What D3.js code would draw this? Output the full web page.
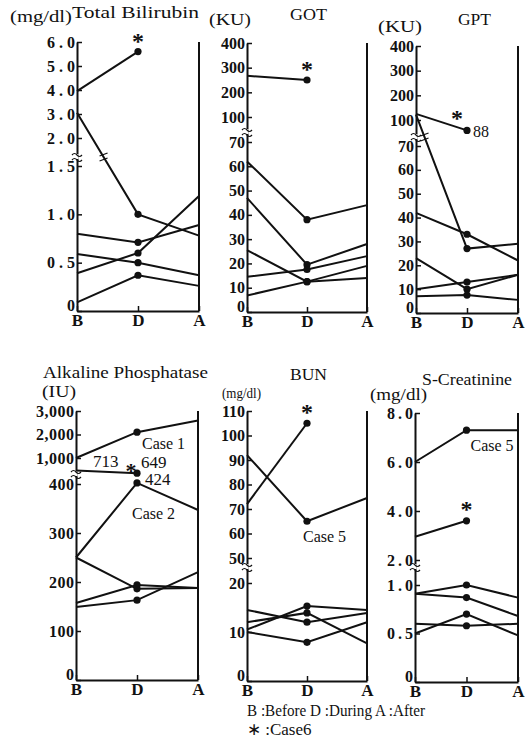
<!DOCTYPE html>
<html><head><meta charset="utf-8">
<script src="https://cdn.jsdelivr.net/npm/d3@7"></script>
<style>
body{margin:0;background:#fff}
svg{display:block}
text{font-family:"Liberation Serif","Times New Roman",serif;fill:#111}
</style>
</head><body>
<svg id="c" width="532" height="743"></svg>
<script>
// ---------- data ----------
const stages = ["B","D","A"];

// Total Bilirubin (mg/dl)
const bilDomain = [0, 1.5, 2.0, 6.0];
const bilTicks = [0, 0.5, 1.0, 1.5, 2.0, 3.0, 4.0, 5.0, 6.0];
const bilTickLabels = ["0","0.5","1.0","1.5","2.0","3.0","4.0","5.0","6.0"];
const bilCase6 = [3.95, 5.6, null];
const bilOthers = [[3.05,1.0,0.78],[0.8,0.71,0.89],[0.39,0.6,1.19],[0.59,0.5,0.37],[0.09,0.37,0.26]];

// GOT (KU)
const gotDomain = [0, 70, 100, 400];
const gotTicks = [0,10,20,30,40,50,60,70,100,200,300,400];
const gotTickLabels = ["0","10","20","30","40","50","60","70","100","200","300","400"];
const gotCase6 = [267, 250, null];
const gotOthers = [[62,38,44],[47,19.5,28],[25.5,12.5,14],[14.5,17.5,23],[6.8,12.5,19]];

// GPT (KU)
const gptDomain = [0, 70, 100, 400];
const gptTicks = [0,10,20,30,40,50,60,70,100,200,300,400];
const gptTickLabels = ["0","10","20","30","40","50","60","70","100","200","300","400"];
const gptCase6 = [125, 88, null];
const gptOthers = [[122,27,29],[42,33,22],[23,10,16],[10,13,16],[7,7.5,5.5]];

// Alkaline Phosphatase (IU)
const alpDomain = [0, 400, 1000, 3000];
const alpTicks = [0,100,200,300,400,1000,2000,3000];
const alpTickLabels = ["0","100","200","300","400","1,000","2,000","3,000"];
const alpCase6 = [713, 649, null];
const alpCase1 = [1000, 2100, 2600];
const alpCase2 = [250, 424, 347];
const alpOthers = [[250,186,188],[157,194,188],[149,163,220]];

// BUN (mg/dl)
const bunDomain = [0, 20, 50, 110];
const bunTicks = [0,10,20,50,60,70,80,90,100,110];
const bunTickLabels = ["0","10","20","50","60","70","80","90","100","110"];
const bunCase6 = [72, 105, null];
const bunCase5 = [92, 65, 74.5];
const bunOthers = [[14.5,12,13.9],[10.5,15.3,14.5],[12,13.9,7.7],[10,7.9,12]];

// S-Creatinine (mg/dl)
const creDomain = [0, 1.0, 2.0, 8.0];
const creTicks = [0,0.5,1.0,2.0,4.0,6.0,8.0];
const creTickLabels = ["0","0.5","1.0","2.0","4.0","6.0","8.0"];
const creCase6 = [2.95, 3.6, null];
const creCase5 = [6.0, 7.3, 7.3];
const creOthers = [[0.91,1.0,0.87],[0.91,0.87,0.68],[0.5,0.7,0.48],[0.6,0.58,0.6]];

const legendLines = ["B :Before  D :During  A :After", "\u2217 :Case6"];

// ---------- layout ----------
const svg = d3.select("#c");
const ink = "#111";

const panels = [
  {title:"Total Bilirubin", unit:"(mg/dl)", domain:bilDomain, ticks:bilTicks, labels:bilTickLabels,
   series:[bilCase6, ...bilOthers], case6:bilCase6,
   L:{x0:77,x1:199,range:[311,166,138,42],breakY:157,tickFs:16,tickLs:4,
      title:{x:72,y:18,w:127,fs:17}, unitT:{x:10,y:22,w:62,fs:16}, lineBreak:true}},
  {title:"GOT", unit:"(KU)", domain:gotDomain, ticks:gotTicks, labels:gotTickLabels,
   series:[gotCase6, ...gotOthers], case6:gotCase6,
   L:{x0:247,x1:367,range:[312,142,117,43],breakY:132,tickFs:16,tickLs:0,
      title:{x:290,y:20,w:37,fs:16}, unitT:{x:209,y:25,w:42,fs:16}}},
  {title:"GPT", unit:"(KU)", domain:gptDomain, ticks:gptTicks, labels:gptTickLabels,
   series:[gptCase6, ...gptOthers], case6:gptCase6,
   L:{x0:416,x1:518,range:[313,146,120,46],breakY:137,tickFs:16,tickLs:0,
      title:{x:458,y:25,w:33,fs:16}, unitT:{x:378,y:32,w:44,fs:16}, lineBreak:true}},
  {title:"Alkaline Phosphatase", unit:"(IU)", domain:alpDomain, ticks:alpTicks, labels:alpTickLabels,
   series:[alpCase6, alpCase1, alpCase2, ...alpOthers], case6:alpCase6,
   L:{x0:76,x1:198,range:[680,484,458,411],breakY:474,tickFs:16,tickLs:0.5,
      title:{x:43,y:378,w:165,fs:16}, unitT:{x:42,y:397,w:34,fs:16}}},
  {title:"BUN", unit:"(mg/dl)", domain:bunDomain, ticks:bunTicks, labels:bunTickLabels,
   series:[bunCase6, bunCase5, ...bunOthers], case6:bunCase6,
   L:{x0:247,x1:367,range:[681,583,558,411],breakY:567,tickFs:16,tickLs:0,
      title:{x:290,y:380,w:37,fs:16}, unitT:{x:222,y:398,w:39,fs:15}}},
  {title:"S-Creatinine", unit:"(mg/dl)", domain:creDomain, ticks:creTicks, labels:creTickLabels,
   series:[creCase6, creCase5, ...creOthers], case6:creCase6,
   L:{x0:415,x1:518,range:[682,585,560,413],breakY:567,tickFs:16,tickLs:3,
      title:{x:422,y:385,w:90,fs:16}, unitT:{x:370,y:400,w:57,fs:16}}}
];

panels.forEach((p, pi) => {
  const L = p.L;
  const x = d3.scalePoint().domain(stages).range([L.x0, L.x1]);
  const y = d3.scaleLinear().domain(p.domain).range(L.range);
  p.x = x; p.y = y;
  const g = svg.append("g");

  // titles
  g.append("text").attr("x", L.title.x).attr("y", L.title.y).attr("font-size", L.title.fs)
    .attr("textLength", L.title.w).attr("lengthAdjust","spacingAndGlyphs").text(p.title);
  g.append("text").attr("x", L.unitT.x).attr("y", L.unitT.y).attr("font-size", L.unitT.fs)
    .attr("textLength", L.unitT.w).attr("lengthAdjust","spacingAndGlyphs").text(p.unit);

  // left axis
  const ya = g.append("g").attr("transform", `translate(${L.x0},0)`)
    .call(d3.axisLeft(y).tickValues(p.ticks).tickFormat((d,i)=>p.labels[i])
      .tickSize(-5).tickSizeOuter(0).tickPadding(2));
  ya.select(".domain").attr("stroke", ink).attr("stroke-width", 2);
  ya.selectAll(".tick line").attr("stroke", ink).attr("stroke-width", 1.5);
  ya.selectAll(".tick text").attr("fill", ink)
    .style("font-family", '"Liberation Serif",serif').style("font-size", L.tickFs + "px")
    .style("font-weight", "bold")
    .style("letter-spacing", L.tickLs + "px").attr("dx", L.tickLs + "px")
    .attr("dy", d => d === 0 ? "-0.05em" : "0.32em");

  // bottom axis
  const xa = g.append("g").attr("transform", `translate(0,${L.range[0]})`)
    .call(d3.axisBottom(x).tickSize(-5).tickSizeOuter(0).tickPadding(3));
  xa.select(".domain").attr("stroke", ink).attr("stroke-width", 2);
  xa.selectAll(".tick line").attr("stroke", ink).attr("stroke-width", 1.5);
  xa.selectAll(".tick text").attr("fill", ink)
    .style("font-family", '"Liberation Serif",serif').style("font-size","17px").style("font-weight","bold");

  // right frame line at A
  g.append("line").attr("x1", L.x1).attr("x2", L.x1)
    .attr("y1", L.range[L.range.length-1]).attr("y2", L.range[0])
    .attr("stroke", ink).attr("stroke-width", 2);

  // axis break mark
  const by = L.breakY;
  g.append("rect").attr("x", L.x0-1.5).attr("y", by-3).attr("width", 3).attr("height", 5).attr("fill","#fff");
  [-3, 2].forEach(o => {
    g.append("path").attr("d", `M${L.x0-5},${by+o+1} q2.5,-3 5,0 t5,0`)
      .attr("fill","none").attr("stroke", ink).attr("stroke-width", 1.2);
  });

  // lines
  const line = d3.line().defined(d => d != null).x((d,i) => x(stages[i])).y(d => y(d));
  p.series.forEach(s => {
    g.append("path").datum(s).attr("d", line).attr("fill","none")
      .attr("stroke", ink).attr("stroke-width", 2);
    g.append("circle").attr("cx", x("D")).attr("cy", y(s[1])).attr("r", 3.6).attr("fill", ink);
  });

  // break marks on lines crossing the break
  if (L.lineBreak) {
    p.series.forEach(s => {
      const y0 = y(s[0]), y1 = y(s[1]);
      if ((y0 - by) * (y1 - by) < 0) {
        const t = (by - y0) / (y1 - y0);
        const cx = x("B") + t * (x("D") - x("B"));
        [-2.5, 2.5].forEach(o => {
          g.append("line").attr("x1", cx-4).attr("x2", cx+4).attr("y1", by+o+1.5).attr("y2", by+o-1.5)
            .attr("stroke", ink).attr("stroke-width", 1.3);
        });
      }
    });
  }
});

// ---------- annotations ----------
function star(px, py, fs) {
  svg.append("text").attr("x", px).attr("y", py).attr("text-anchor","middle")
    .attr("font-size", fs || 24).attr("font-weight","bold").text("*");
}
function label(px, py, txt, fs, anchor) {
  svg.append("text").attr("x", px).attr("y", py).attr("text-anchor", anchor || "start")
    .attr("font-size", fs || 16).text(txt);
}
{
  const p = panels[0]; star(p.x("D"), p.y(p.case6[1]) - 3);
}
{
  const p = panels[1]; star(p.x("D"), p.y(p.case6[1]) - 3);
}
{
  const p = panels[2];
  star(p.x("D") - 10, p.y(p.case6[1]) - 4);
  label(p.x("D") + 6, p.y(p.case6[1]) + 7, String(gptCase6[1]), 16);
}
{
  const p = panels[3], x = p.x, y = p.y;
  label(x("B") + 17, y(alpCase6[0]) - 3, String(alpCase6[0]), 17);
  star(x("D") - 6, y(alpCase6[1]) + 5, 22);
  label(x("D") + 4, y(alpCase6[1]) - 5, String(alpCase6[1]), 17);
  label(x("D") + 8, y(alpCase2[1]) + 2, String(alpCase2[1]), 17);
  label(x("D") + 5, y(alpCase1[1]) + 17, "Case 1", 16);
  label(x("D") - 5, y(alpCase2[2]) + 9, "Case 2", 16);
}
{
  const p = panels[4];
  star(p.x("D"), p.y(bunCase6[1]) - 3);
  label(p.x("D") - 4, p.y(bunCase5[1]) + 21, "Case 5", 16);
}
{
  const p = panels[5];
  star(p.x("D"), p.y(creCase6[1]) - 4);
  svg.append("text").attr("x", p.x("D") + 4).attr("y", p.y(creCase5[1]) + 21)
    .attr("font-size", 16).attr("textLength", 43).attr("lengthAdjust","spacingAndGlyphs").text("Case 5");
}

// legend
svg.append("text").attr("x", 247).attr("y", 716).attr("font-size", 16)
  .attr("textLength", 178).attr("lengthAdjust","spacingAndGlyphs").text(legendLines[0]);
svg.append("text").attr("x", 247).attr("y", 735).attr("font-size", 17).text(legendLines[1]);
</script>
</body></html>
